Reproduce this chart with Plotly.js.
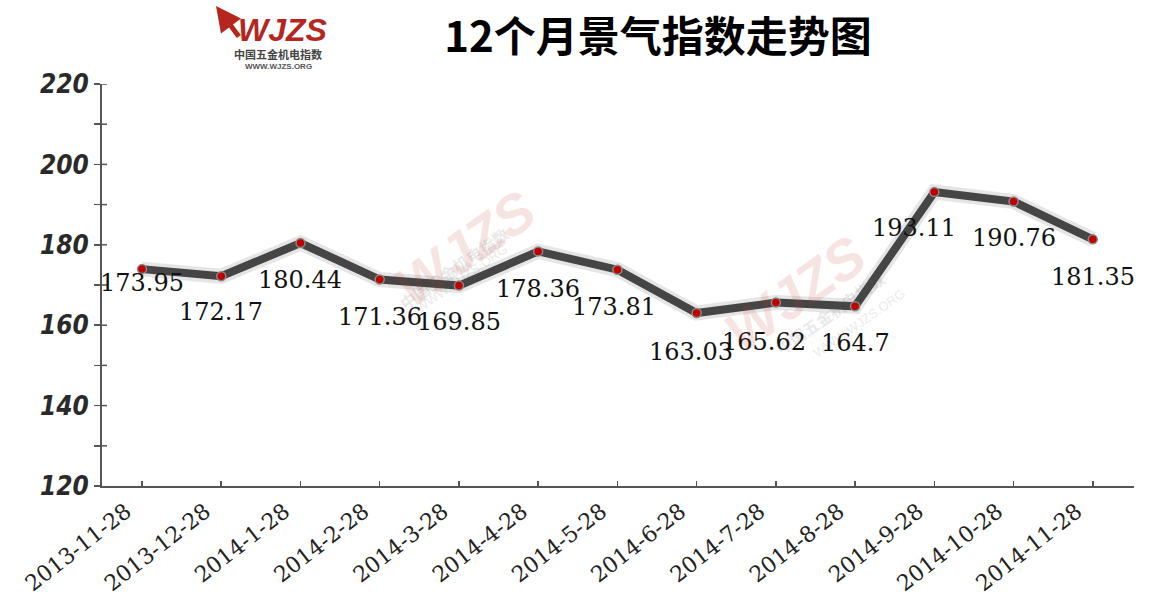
<!DOCTYPE html>
<html>
<head>
<meta charset="utf-8">
<script src="https://cdn.plot.ly/plotly-3.0.1.min.js"></script>
<style>html,body{margin:0;padding:0;background:#fff;}#chart{width:1149px;height:605px;}</style>
</head>
<body>
<div id="chart"></div>
<script>
const categories = ['2013-11-28','2013-12-28','2014-1-28','2014-2-28','2014-3-28','2014-4-28','2014-5-28','2014-6-28','2014-7-28','2014-8-28','2014-9-28','2014-10-28','2014-11-28'];
const values = [173.95,172.17,180.44,171.36,169.85,178.36,173.81,163.03,165.62,164.7,193.11,190.76,181.35];
const labels = ['173.95','172.17','180.44','171.36','169.85','178.36','173.81','163.03','165.62','164.7','193.11','190.76','181.35'];
const yTickVals = [120,140,160,180,200,220];
const yMinorTickVals = [130,150,170,190,210];
const chartTitle = '12个月景气指数走势图';

const xIdx = categories.map((c,i)=>i);
const labelYShift = [-14,-36,-37,-37,-36,-38,-37,-39,-39,-37,-36,-36,-38];
const labelXShift = [0,0,0,0,0,0,-3,-6,-12,0,-20,0,0];

const traces = [{
  type:'scatter', mode:'lines', x:xIdx, y:values,
  line:{color:'rgba(0,0,0,0.10)', width:15}, hoverinfo:'skip', showlegend:false
},{
  type:'scatter', mode:'lines+markers',
  x:xIdx, y:values,
  line:{color:'#454545', width:8},
  marker:{size:9, color:'#c00000', line:{color:'#8a8a8a', width:1.5}},
  hoverinfo:'skip', showlegend:false
}];

const annotations = values.map((v,i)=>({
  x:i, y:v, xref:'x', yref:'y', text:labels[i], showarrow:false,
  yshift:labelYShift[i], xshift:labelXShift[i],
  font:{family:'DejaVu Serif, Liberation Serif, serif', size:24, color:'#111'}
}));

// logo (top-left)
annotations.push({xref:'paper', yref:'paper', x:(236-102)/1032, y:1+(84-30)/402, xanchor:'left', yanchor:'middle', text:'<b><i>WJZS</i></b>', showarrow:false, font:{family:'Liberation Sans, sans-serif', size:32, color:'#b5261e'}});
annotations.push({xref:'paper', yref:'paper', x:(216-102)/1032, y:1+(84-6)/402, ax:24, ay:32, text:'', showarrow:true, arrowhead:2, arrowsize:1, arrowwidth:5, arrowcolor:'#b5261e'});
annotations.push({xref:'paper', yref:'paper', x:(278-102)/1032, y:1+(84-54)/402, xanchor:'center', yanchor:'middle', text:'<b>中国五金机电指数</b>', showarrow:false, font:{family:'Noto Sans CJK SC', size:11, color:'#444'}});
annotations.push({xref:'paper', yref:'paper', x:(278-102)/1032, y:1+(84-66)/402, xanchor:'center', yanchor:'middle', text:'<b>WWW.WJZS.ORG</b>', showarrow:false, font:{family:'Liberation Sans, sans-serif', size:8, color:'#555'}});

// faint watermarks
[[380,238],[880,283]].forEach(p=>{
  annotations.push({xref:'paper', yref:'paper', x:(p[0]-102)/1032, y:(486-p[1]+ -10)/402, text:'<b><i>WJZS</i></b>', showarrow:false, textangle:-35, opacity:0.13, font:{family:'Liberation Sans, sans-serif', size:56, color:'#c0392b'}});
  annotations.push({xref:'paper', yref:'paper', x:(p[0]-102+12)/1032, y:(486-p[1]-30)/402, text:'<b>中国五金机电指数</b>', showarrow:false, textangle:-35, opacity:0.12, font:{family:'Noto Sans CJK SC', size:16, color:'#555'}});
  annotations.push({xref:'paper', yref:'paper', x:(p[0]-102+30)/1032, y:(486-p[1]-40)/402, text:'WWW.WJZS.ORG', showarrow:false, textangle:-35, opacity:0.12, font:{family:'Liberation Sans, sans-serif', size:13, color:'#555'}});
});

// inner half of the crossing y-axis ticks
const shapes = yTickVals.concat(yMinorTickVals).filter(v=>v>120).map(v=>({
  type:'line', xref:'paper', yref:'y', x0:0, x1:5/1032, y0:v, y1:v,
  line:{color:'#555', width:1.5}
}));

const layout = {
  width:1149, height:605,
  margin:{l:102, r:15, t:84, b:119},
  paper_bgcolor:'#fff', plot_bgcolor:'#fff',
  title:{text:'<b>'+chartTitle+'</b>', x:658/1149, xref:'container', xanchor:'center', y:1-37/605, yref:'container', yanchor:'middle',
    font:{family:'Noto Sans CJK SC, Liberation Sans, sans-serif', size:42, color:'#000'}},
  xaxis:{range:[-0.505,12.52], tickvals:xIdx, ticktext:categories, tickangle:-38,
    ticks:'inside', ticklen:5, tickwidth:1.5, tickcolor:'#555',
    ticklabelshift:-16, ticklabelstandoff:2,
    showline:true, linecolor:'#555', linewidth:2, showgrid:false, zeroline:false,
    tickfont:{family:'DejaVu Serif, Liberation Serif, serif', size:22, color:'#222'}},
  yaxis:{range:[120,220], tickvals:yTickVals, ticks:'outside', ticklen:6, tickwidth:1.5, tickcolor:'#555',
    minor:{tickvals:yMinorTickVals, ticks:'outside', ticklen:6, tickwidth:1.5, tickcolor:'#555'},
    showline:true, linecolor:'#555', linewidth:2, showgrid:false, zeroline:false,
    tickfont:{family:'DejaVu Sans Condensed, Liberation Sans, sans-serif', size:26, color:'#2a2a2a', weight:'bold', style:'italic'}},
  shapes:shapes,
  annotations:annotations
};

Plotly.newPlot('chart', traces, layout, {displayModeBar:false, staticPlot:true});
</script>
</body>
</html>
